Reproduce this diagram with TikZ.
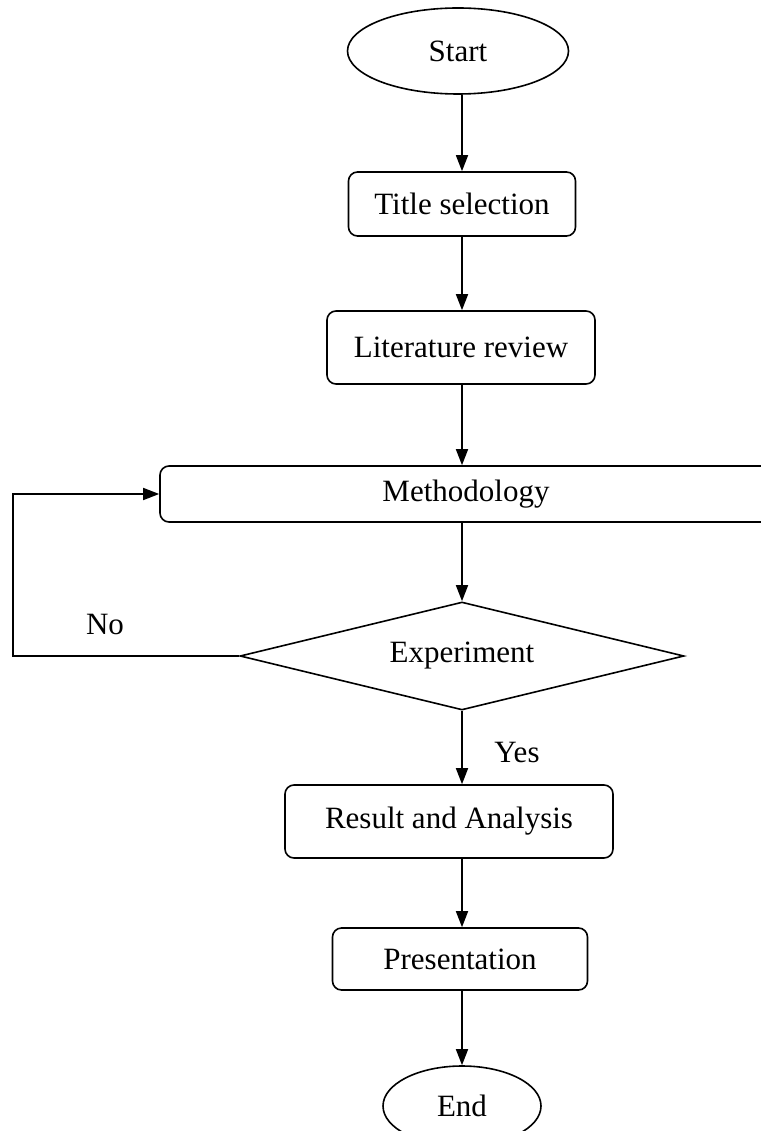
\documentclass[tikz,border=0pt]{standalone}
\usepackage{fontspec}
\setmainfont{Liberation Serif}
\usetikzlibrary{shapes.geometric,arrows.meta}

\begin{document}
\begin{tikzpicture}[x=1pt, y=-1pt, font=\fontsize{31}{36}\selectfont, line width=1.6pt,
    stepbox/.style={draw, rectangle, rounded corners=9pt, inner sep=0pt},
    terminal/.style={draw, ellipse, inner sep=0pt},
    arrow/.style={-{Triangle[length=16pt, width=12pt]}}]
    \useasboundingbox (0,0) rectangle (760,1131);

    % Start
    \node[terminal, minimum width=221pt, minimum height=86pt] (start) at (458,51) {Start};

    % Steps
    \node[stepbox, minimum width=227pt, minimum height=64pt] (title) at (462,204) {Title selection};
    \node[stepbox, minimum width=268pt, minimum height=73pt] (lit) at (461,347.5) {Literature review};
    \node[stepbox, minimum width=612pt, minimum height=56pt] (meth) at (466,494) {Methodology};

    % Decision
    \node[draw, diamond, aspect=4, inner sep=0pt, minimum width=444pt, minimum height=108pt] (exp) at (462,656) {Experiment};

    \node[stepbox, minimum width=328pt, minimum height=73pt] (result) at (449,821.5) {Result and Analysis};
    \node[stepbox, minimum width=255pt, minimum height=62pt] (pres) at (460,959) {Presentation};

    % End
    \node[terminal, minimum width=158pt, minimum height=80pt] (end) at (462,1106) {End};

    % Labels
    \node (no) at (105,624) {No};
    \node (yes) at (517,752) {Yes};
    \coordinate (loop) at (13,656);

    % Connections
    \draw[arrow] (title.north |- start.south) -- (title.north);
    \draw[arrow] (title.south) -- (title.south |- lit.north);
    \draw[arrow] (title.south |- lit.south) -- (title.south |- meth.north);
    \draw[arrow] (exp.north |- meth.south) -- (exp.north);
    \draw[arrow] (exp.south) -- (exp.south |- result.north);
    \draw[arrow] (exp.south |- result.south) -- (exp.south |- pres.north);
    \draw[arrow] (exp.south |- pres.south) -- (end.north);
    \draw[arrow] (exp.west) -- (loop) |- (meth.west);
\end{tikzpicture}
\end{document}
